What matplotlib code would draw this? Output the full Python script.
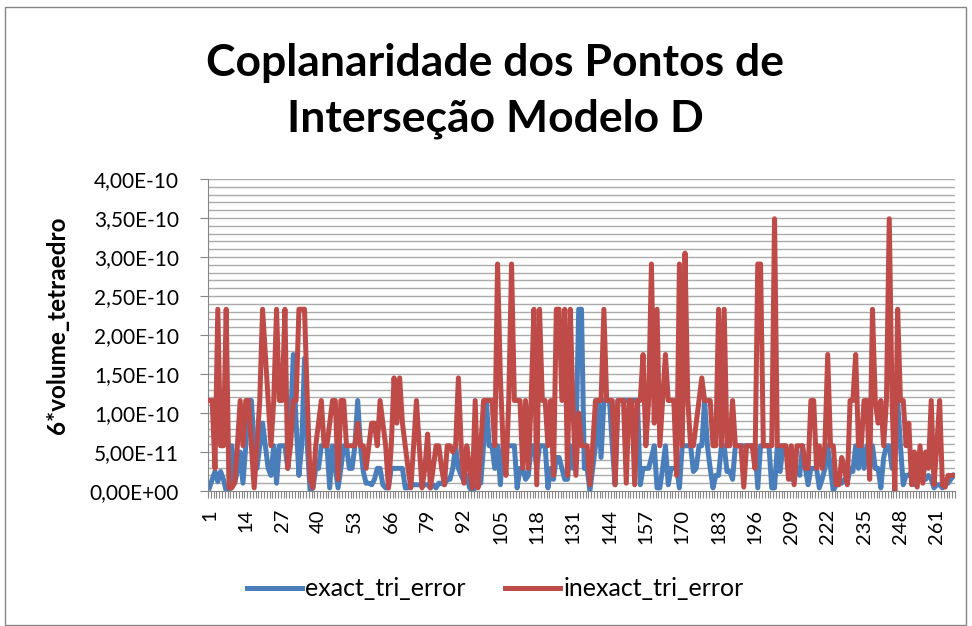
import numpy as np
import matplotlib.pyplot as plt
from matplotlib.patches import Rectangle
from matplotlib.ticker import FixedLocator, FuncFormatter

plt.rcParams["font.family"] = ["Lato", "DejaVu Sans"]

SCALE = 1e-10  # valores abaixo em unidades de 1e-10

EXACT = [
    0.04, 0.15, 0.25, 0.12, 0.25, 0.15, 0.00, 0.00, 0.58, 0.10,
    0.25, 0.50, 0.10, 0.58, 1.16, 1.16, 0.58, 0.29, 0.58, 0.87,
    0.58, 0.29, 0.20, 0.58, 0.10, 0.58, 0.58, 0.58, 0.29, 0.87,
    1.75, 0.87, 0.20, 0.58, 1.70, 0.58, 0.00, 0.04, 0.29, 0.29,
    0.58, 0.58, 0.58, 0.04, 0.58, 0.29, 0.04, 0.29, 0.58, 0.58,
    0.29, 0.29, 0.58, 1.16, 0.58, 0.25, 0.10, 0.10, 0.08, 0.15,
    0.29, 0.29, 0.08, 0.04, 0.04, 0.29, 0.29, 0.29, 0.29, 0.29,
    0.04, 0.04, 0.10, 0.08, 0.08, 0.08, 0.08, 0.08, 0.08, 0.04,
    0.08, 0.04, 0.10, 0.10, 0.08, 0.15, 0.15, 0.29, 0.58, 0.29,
    0.20, 0.12, 0.20, 0.04, 0.00, 0.04, 0.10, 0.10, 0.58, 1.16,
    0.58, 0.58, 0.29, 0.58, 0.08, 0.58, 0.58, 0.58, 0.58, 0.58,
    0.04, 0.29, 0.29, 0.15, 0.20, 0.58, 0.58, 0.29, 0.58, 0.58,
    0.58, 0.04, 0.29, 0.15, 0.43, 0.43, 0.29, 0.15, 0.15, 0.58,
    0.29, 0.58, 2.33, 2.33, 0.29, 0.29, 0.00, 0.29, 0.58, 1.16,
    0.43, 1.16, 1.16, 1.16, 0.58, 0.08, 1.16, 1.16, 1.16, 1.16,
    1.16, 1.16, 1.16, 1.16, 0.08, 0.29, 0.29, 0.29, 0.43, 0.58,
    0.04, 0.04, 0.29, 0.58, 0.08, 0.29, 0.29, 0.29, 0.04, 0.58,
    0.58, 0.58, 0.58, 0.25, 0.29, 0.58, 0.58, 1.16, 0.58, 0.29,
    0.04, 0.20, 0.20, 0.58, 0.58, 0.25, 0.25, 0.15, 0.58, 0.58,
    0.58, 0.58, 0.58, 0.58, 0.58, 0.58, 0.04, 0.58, 0.58, 0.58,
    0.58, 0.04, 0.04, 0.58, 0.25, 0.58, 0.58, 0.43, 0.15, 0.25,
    0.29, 0.20, 0.58, 0.29, 0.08, 0.29, 0.29, 0.29, 0.04, 0.15,
    0.29, 0.58, 0.29, 0.00, 0.08, 0.10, 0.10, 0.15, 0.10, 0.29,
    0.25, 0.58, 0.29, 0.58, 0.29, 0.58, 0.29, 0.58, 0.29, 0.29,
    0.04, 0.43, 0.58, 0.58, 0.29, 0.58, 1.16, 0.58, 0.08, 0.20,
    0.20, 0.25, 0.08, 0.20, 0.15, 0.20, 0.15, 0.20, 0.15, 0.04,
    0.08, 0.08, 0.04, 0.10, 0.10, 0.15, 0.20,
]

INEXACT = [
    1.16, 1.16, 0.29, 2.33, 0.58, 0.58, 2.33, 0.04, 0.04, 0.10,
    0.58, 1.16, 0.58, 1.16, 1.16, 0.58, 0.04, 0.58, 1.16, 2.33,
    1.75, 1.16, 0.58, 1.16, 2.33, 1.16, 1.16, 2.33, 0.29, 0.58,
    1.16, 1.16, 2.33, 2.33, 2.33, 1.16, 0.15, 0.04, 0.58, 0.87,
    1.16, 0.58, 0.58, 0.87, 1.16, 1.16, 0.15, 1.16, 1.16, 0.58,
    0.58, 0.58, 0.58, 0.87, 0.58, 0.58, 0.29, 0.58, 0.87, 0.87,
    0.58, 1.16, 0.87, 0.58, 0.04, 0.58, 1.45, 0.87, 1.45, 0.87,
    0.58, 0.29, 0.04, 0.58, 1.16, 0.58, 0.04, 0.29, 0.73, 0.04,
    0.29, 0.58, 0.58, 0.29, 0.08, 0.58, 0.58, 0.50, 0.58, 1.45,
    0.58, 0.10, 0.58, 0.29, 0.04, 1.16, 0.04, 0.58, 1.16, 1.16,
    1.16, 1.16, 0.58, 2.91, 1.45, 0.58, 0.20, 1.16, 2.91, 1.16,
    1.16, 1.16, 0.29, 1.16, 0.29, 1.16, 2.33, 0.08, 2.33, 1.16,
    1.16, 0.58, 1.16, 0.20, 2.33, 2.33, 1.16, 2.33, 0.20, 2.33,
    1.00, 0.20, 1.00, 0.58, 0.58, 0.58, 0.08, 0.58, 1.16, 1.16,
    1.16, 2.33, 1.16, 1.16, 1.16, 0.08, 1.16, 1.16, 1.16, 0.10,
    1.16, 1.16, 0.08, 1.16, 1.16, 1.75, 0.58, 1.16, 2.91, 0.87,
    2.33, 0.58, 1.16, 1.75, 1.16, 1.16, 1.16, 0.20, 2.91, 0.58,
    3.05, 1.16, 0.58, 0.58, 0.87, 1.16, 1.45, 1.16, 1.16, 1.16,
    0.58, 0.58, 2.33, 0.58, 2.33, 0.58, 0.58, 1.16, 0.58, 0.58,
    0.58, 0.05, 0.58, 0.58, 0.58, 0.29, 2.91, 2.91, 0.58, 0.58,
    0.58, 0.58, 3.49, 0.58, 0.58, 0.58, 0.58, 0.15, 0.58, 0.08,
    0.58, 0.58, 0.58, 0.29, 0.29, 1.16, 1.16, 0.29, 0.58, 0.29,
    0.58, 1.75, 0.58, 0.58, 0.08, 0.08, 0.43, 0.29, 0.08, 1.16,
    1.16, 1.75, 0.58, 0.58, 1.16, 1.16, 0.15, 2.33, 1.16, 0.87,
    1.16, 0.58, 1.16, 3.49, 1.16, 0.00, 2.33, 1.16, 1.16, 0.58,
    0.87, 0.08, 0.50, 0.05, 0.58, 0.10, 0.50, 0.29, 1.16, 0.08,
    0.58, 1.16, 0.08, 0.05, 0.20, 0.20, 0.20,
]

SERIES = ["exact_tri_error", "inexact_tri_error"]
COLORS = ["#4A7EBB", "#BE4B48"]
YTICKS = np.arange(0, 4.01, 0.5) * SCALE

x = np.arange(1, len(EXACT) + 1)
exact = np.array(EXACT) * SCALE
inexact = np.array(INEXACT) * SCALE

fig = plt.figure(figsize=(9.72, 6.26), dpi=100)
fig.patches.append(Rectangle((5 / 972, 1 / 626), 961 / 972, 618 / 626,
                             transform=fig.transFigure, fill=False,
                             edgecolor="#868686", lw=1.0))

ax = fig.add_axes([208 / 972, 135 / 626, 747 / 972, 312 / 626])

# grelha: linha a cada 1e-11
for g in np.arange(0.1, 4.01, 0.1) * SCALE:
    ax.axhline(g, color="#ababab", lw=1.0, zorder=0)

ax.plot(x, exact, color=COLORS[0], lw=3.6, solid_joinstyle="round",
        label=SERIES[0], zorder=2)
ax.plot(x, inexact, color=COLORS[1], lw=3.6, solid_joinstyle="round",
        label=SERIES[1], zorder=3)

ax.set_xlim(0.5, len(x) + 0.5)
ax.set_ylim(0, 4 * SCALE)
ax.set_yticks(YTICKS)
ax.yaxis.set_major_formatter(
    FuncFormatter(lambda v, _: f"{v:.2E}".replace(".", ",")))

ax.xaxis.set_major_locator(FixedLocator(np.arange(1, len(x) + 1, 13)))
ax.xaxis.set_minor_locator(FixedLocator(np.arange(0.5, len(x) + 1, 1)))
ax.tick_params(axis="x", which="major", length=0, labelsize=14.5,
               labelrotation=90, pad=13)
ax.tick_params(axis="x", which="minor", length=5, color="#868686", width=0.8)
ax.tick_params(axis="y", length=6, color="#868686", labelsize=15, pad=15)

for s in ["top", "right"]:
    ax.spines[s].set_visible(False)
for s in ["left", "bottom"]:
    ax.spines[s].set_color("#868686")

fig.text(57 / 972, 1 - 325 / 626, "6*volume_tetraedro", rotation=90,
         ha="center", va="center", fontsize=17.5, fontweight="bold")

fig.text(495 / 972, 1 - 91 / 626,
         "Coplanaridade dos Pontos de\nInterseção Modelo D",
         ha="center", va="center", fontsize=32, fontweight="bold",
         linespacing=1.45)

fig.legend(loc="center", bbox_to_anchor=(495 / 972, 1 - 589 / 626),
           ncol=2, frameon=False, fontsize=18, handlelength=2.2,
           handletextpad=0.15, columnspacing=1.55)

fig.savefig("out.png", dpi=100)
